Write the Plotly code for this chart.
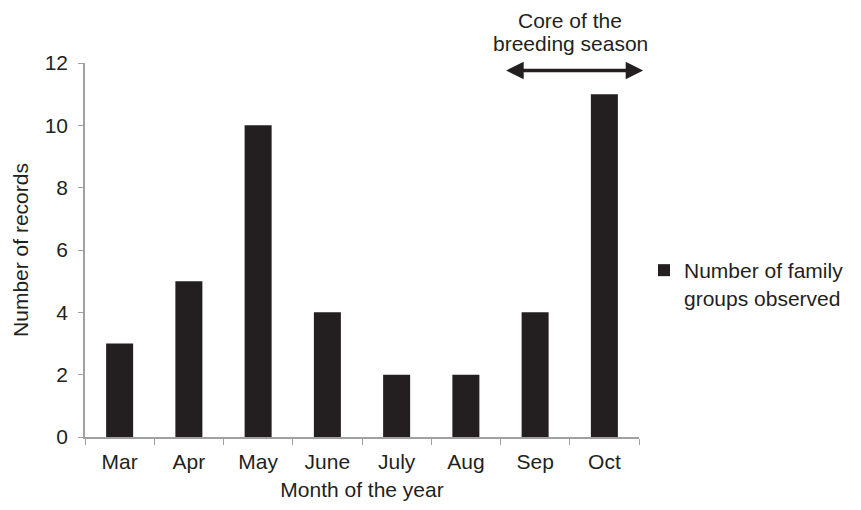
import plotly.graph_objects as go

months = ["Mar", "Apr", "May", "June", "July", "Aug", "Sep", "Oct"]
family_groups = [3, 5, 10, 4, 2, 2, 4, 11]
series_name = "Number of family<br>groups observed"
y_ticks = [0, 2, 4, 6, 8, 10, 12]
annotation_lines = ["Core of the", "breeding season"]

# arrow span (category index units) and height (data units)
arrow_x0, arrow_x1, arrow_y = 5.56, 7.56, 11.76

DARK = "#231f20"
AXIS = "#a0a0a0"
FONT = "Liberation Sans, Arial, sans-serif"
FS = 21

fig = go.Figure()
fig.add_trace(go.Bar(
    x=months, y=family_groups, name=series_name,
    marker=dict(color=DARK, line=dict(width=0)),
    showlegend=True,
))

# the page body has an 8px margin, so the figure is 8px smaller
fig.update_layout(
    width=853, height=502,
    margin=dict(l=77, r=203, t=55, b=67),
    paper_bgcolor="white", plot_bgcolor="white",
    font=dict(family=FONT, size=FS, color=DARK),
    bargap=0.61,
    showlegend=True,
    legend=dict(x=1.009, y=0.5, xanchor="left", yanchor="top",
                valign="top", font=dict(size=FS, color=DARK),
                bgcolor="rgba(0,0,0,0)"),
    xaxis=dict(
        showline=True, linecolor=AXIS, linewidth=1.5,
        ticks="outside", ticklen=6, tickcolor=AXIS, tickwidth=1,
        tickson="boundaries", showgrid=False, zeroline=False,
        ticklabelstandoff=5,
        title=dict(text="Month of the year", standoff=10,
                   font=dict(size=FS, color=DARK)),
        range=[-0.5, 7.5],
    ),
    yaxis=dict(
        showline=True, linecolor=AXIS, linewidth=1.5,
        ticks="outside", ticklen=5, tickcolor=AXIS, tickwidth=1,
        showgrid=False, zeroline=False,
        range=[0, 12], tickvals=y_ticks,
        ticklabelstandoff=6,
        title=dict(text="Number of records", standoff=10,
                   font=dict(size=FS, color=DARK)),
    ),
)

# double-headed arrow
fig.add_annotation(
    x=arrow_x1, y=arrow_y, ax=arrow_x0, ay=arrow_y,
    xref="x", yref="y", axref="x", ayref="y",
    showarrow=True, arrowhead=2, arrowside="end+start",
    arrowsize=1, arrowwidth=3.5, arrowcolor=DARK, text="",
)
fig.add_shape(
    type="line", xref="x", yref="y",
    x0=arrow_x0 + 0.15, x1=arrow_x1 - 0.2, y0=arrow_y, y1=arrow_y,
    line=dict(color="#9a9a9a", width=1, dash="dot"),
)

for line_text, ypos in zip(annotation_lines, [1.1145, 1.0513]):
    fig.add_annotation(
        text=line_text, xref="x", yref="paper",
        x=6.51, y=ypos, xanchor="center", yanchor="middle",
        showarrow=False, align="center",
        font=dict(size=FS, color=DARK),
    )

fig.write_html("out.html")
